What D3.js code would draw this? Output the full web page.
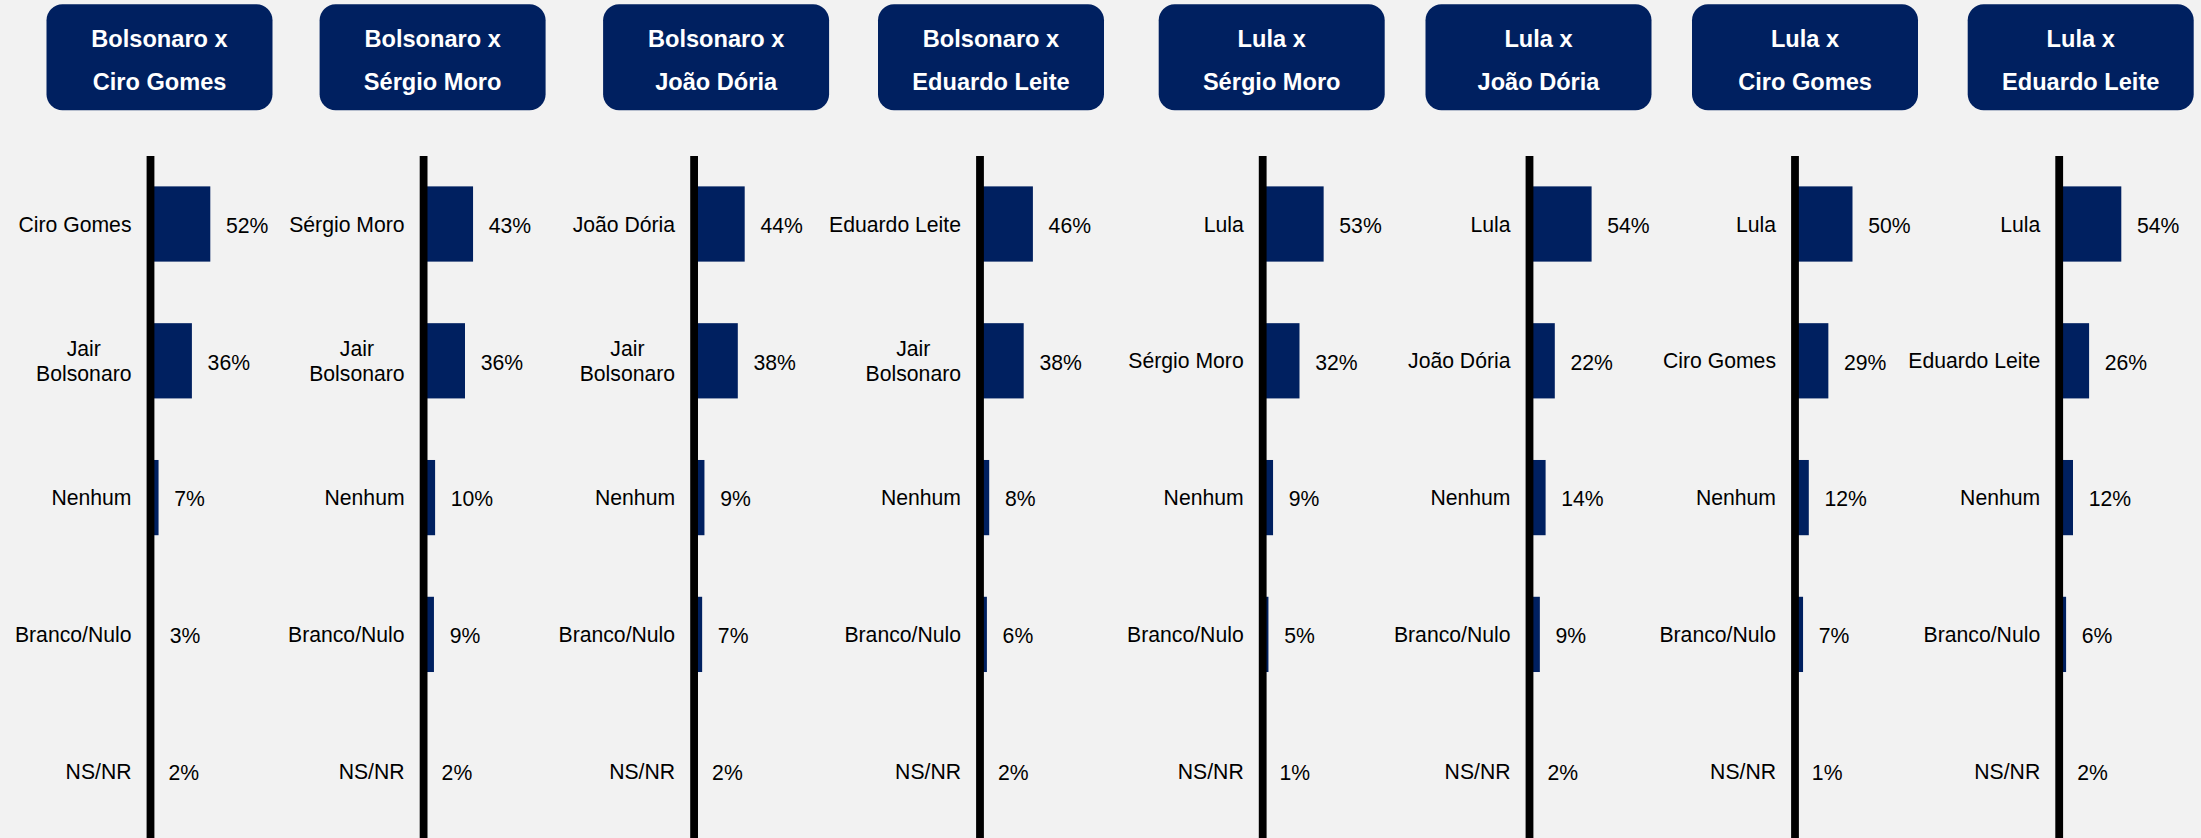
<!DOCTYPE html>
<html>
<head>
<meta charset="utf-8">
<script src="https://cdn.jsdelivr.net/npm/d3@7"></script>
<style>
  body { margin: 0; background: #F2F2F2; }
  text { font-family: "Liberation Sans", Arial, sans-serif; }
</style>
</head>
<body>
<script>
// data
var titlesTop = ["Bolsonaro x", "Bolsonaro x", "Bolsonaro x", "Bolsonaro x", "Lula x", "Lula x", "Lula x", "Lula x"];
var titlesBottom = ["Ciro Gomes", "Sérgio Moro", "João Dória", "Eduardo Leite", "Sérgio Moro", "João Dória", "Ciro Gomes", "Eduardo Leite"];
var firstCand = ["Ciro Gomes", "Sérgio Moro", "João Dória", "Eduardo Leite", "Lula", "Lula", "Lula", "Lula"];
var secondCand = ["Jair\nBolsonaro", "Jair\nBolsonaro", "Jair\nBolsonaro", "Jair\nBolsonaro", "Sérgio Moro", "João Dória", "Ciro Gomes", "Eduardo Leite"];
var otherCats = ["Nenhum", "Branco/Nulo", "NS/NR"];
var values = [
  [52, 36, 7, 3, 2],
  [43, 36, 10, 9, 2],
  [44, 38, 9, 7, 2],
  [46, 38, 8, 6, 2],
  [53, 32, 9, 5, 1],
  [54, 22, 14, 9, 2],
  [50, 29, 12, 7, 1],
  [54, 26, 12, 6, 2]
];

// layout: where each panel's axis sits, and offset of the header box
var axisX = [150.5, 423.6, 694.1, 980, 1262.7, 1529.5, 1795, 2059.2];
var headerShift = [9, 9, 22, 11, 9, 9, 10, 21.5];

var width = 2201, height = 838;
var navy = "#002060";

var svg = d3.select("body").append("svg")
    .attr("width", width)
    .attr("height", height);

svg.append("rect")
    .attr("width", width)
    .attr("height", height)
    .attr("fill", "#F2F2F2");

var x = d3.scaleLinear()
    .domain([0, 100])
    .range([0, 115]);

var y = d3.scaleBand()
    .domain(d3.range(5))
    .range([155.6, 839.6])
    .paddingInner(0.45)
    .paddingOuter(0.225);

var panels = values.map(function(v, i) {
  var cats = [firstCand[i], secondCand[i]].concat(otherCats);
  return {
    i: i,
    top: titlesTop[i],
    bottom: titlesBottom[i],
    rows: v.map(function(d, j) { return {cat: cats[j], value: d, idx: j}; })
  };
});

var panel = svg.selectAll(".panel")
    .data(panels)
  .enter().append("g")
    .attr("class", "panel")
    .attr("transform", function(d) { return "translate(" + axisX[d.i] + ",0)"; });

// header boxes
var header = panel.append("g")
    .attr("transform", function(d) { return "translate(" + headerShift[d.i] + ",0)"; });

header.append("rect")
    .attr("x", -113)
    .attr("y", 4.3)
    .attr("width", 226)
    .attr("height", 106)
    .attr("rx", 16)
    .attr("fill", navy);

header.append("text")
    .attr("text-anchor", "middle")
    .attr("y", 47.3)
    .attr("fill", "#fff")
    .attr("font-weight", "bold")
    .attr("font-size", "23.6px")
    .text(function(d) { return d.top; });

header.append("text")
    .attr("text-anchor", "middle")
    .attr("y", 90)
    .attr("fill", "#fff")
    .attr("font-weight", "bold")
    .attr("font-size", "23.6px")
    .text(function(d) { return d.bottom; });

// bars
panel.selectAll(".bar")
    .data(function(d) { return d.rows; })
  .enter().append("rect")
    .attr("class", "bar")
    .attr("x", 0)
    .attr("y", function(d) { return y(d.idx); })
    .attr("width", function(d) { return x(d.value); })
    .attr("height", y.bandwidth())
    .attr("fill", navy);

// value labels
panel.selectAll(".val")
    .data(function(d) { return d.rows; })
  .enter().append("text")
    .attr("class", "val")
    .attr("x", function(d) { return x(d.value) + 15.7; })
    .attr("y", function(d) { return y(d.idx) + y.bandwidth() / 2 + 8.8; })
    .attr("font-size", "21.2px")
    .attr("fill", "#000")
    .text(function(d) { return d.value + "%"; });

// category labels (multi-line ones are centred on each other)
panel.selectAll(".cat")
    .data(function(d) { return d.rows; })
  .enter().append("text")
    .attr("class", "cat")
    .attr("font-size", "21.2px")
    .attr("fill", "#000")
    .each(function(d) {
      var lines = d.cat.split("\n");
      var t = d3.select(this);
      var cy = y(d.idx) + y.bandwidth() / 2 + 7.6;
      if (lines.length == 1) {
        t.attr("x", -19).attr("y", cy).attr("text-anchor", "end").text(lines[0]);
      } else {
        t.attr("text-anchor", "middle");
        var spans = lines.map(function(l, k) {
          return t.append("tspan")
            .attr("y", cy + (k - (lines.length - 1) / 2) * 24.3)
            .text(l);
        });
        var w = d3.max(spans, function(s) { return s.node().getComputedTextLength(); });
        spans.forEach(function(s) { s.attr("x", -19 - w / 2); });
      }
    });

// vertical axis line
panel.append("line")
    .attr("x1", 0)
    .attr("x2", 0)
    .attr("y1", 156)
    .attr("y2", height)
    .attr("stroke", "#000")
    .attr("stroke-width", 7.8);
</script>
</body>
</html>
